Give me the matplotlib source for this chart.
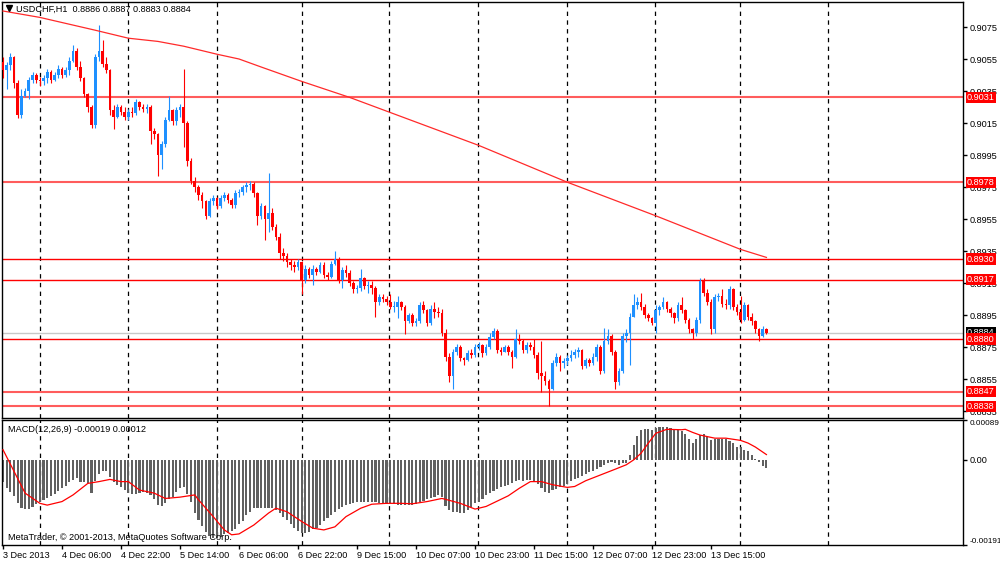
import numpy as np
import matplotlib
matplotlib.use("Agg")
import matplotlib.pyplot as plt
import matplotlib.transforms as mtransforms

# USDCHF H1, 3 Dec 2013 14:00 .. 13 Dec 2013
first_open = 0.9053
closes = [
    .9048, .9051, .9056, .9040, .9020, .9032, .9035, .9042, .9045, .9042,
    .9041, .9043, .9047, .9042, .9045, .9049, .9045, .9048, .9054, .9060,
    .9050, .9043, .9033, .9025, .9014, .9056, .9060, .9052, .9048, .9023,
    .9019, .9025, .9022, .9019, .9022, .9021, .9028, .9025, .9024, .9025,
    .9010, .9008, .8995, .9002, .9017, .9023, .9016, .9023, .9025, .9015,
    .8991, .8979, .8975, .8970, .8966, .8957, .8966, .8968, .8963, .8968,
    .8970, .8967, .8964, .8971, .8972, .8975, .8976, .8977, .8971, .8957,
    .8963, .8955, .8959, .8950, .8944, .8934, .8932, .8928, .8926, .8925,
    .8928, .8917, .8924, .8920, .8924, .8922, .8926, .8920, .8919, .8927,
    .8930, .8917, .8923, .8921, .8915, .8911, .8912, .8918, .8913, .8914,
    .8912, .8903, .8906, .8905, .8903, .8900, .8900, .8903, .8900, .8891,
    .8895, .8890, .8891, .8901, .8898, .8890, .8899, .8897, .8896, .8884,
    .8869, .8857, .8872, .8875, .8868, .8867, .8871, .8870, .8875, .8876,
    .8871, .8875, .8881, .8885, .8873, .8872, .8875, .8872, .8869, .8880,
    .8879, .8873, .8876, .8875, .8870, .8859, .8857, .8854, .8849, .8865,
    .8869, .8865, .8866, .8868, .8870, .8872, .8873, .8863, .8867, .8865,
    .8869, .8875, .8860, .8879, .8882, .8872, .8853, .8860, .8882, .8884,
    .8894, .8901, .8903, .8900, .8895, .8893, .8890, .8898, .8900, .8903,
    .8899, .8896, .8893, .8901, .8898, .8892, .8886, .8884, .8892, .8916,
    .8909, .8903, .8886, .8906, .8907, .8902, .8901, .8911, .8900, .8897,
    .8892, .8901, .8894, .8891, .8886, .8882, .8886, .8884,
]
highs = [
    .9056, .9053, .9059, .9057, .9042, .9036, .9037, .9044, .9047, .9046,
    .9044, .9045, .9049, .9048, .9047, .9051, .9050, .9050, .9056, .9064,
    .9062, .9054, .9044, .9034, .9026, .9058, .9076, .9067, .9056, .9049,
    .9026, .9027, .9026, .9025, .9024, .9025, .9030, .9029, .9027, .9027,
    .9026, .9012, .9009, .9004, .9019, .9032, .9024, .9025, .9027, .9049,
    .9016, .8993, .8981, .8976, .8972, .8967, .8968, .8970, .8969, .8970,
    .8972, .8971, .8968, .8973, .8974, .8976, .8978, .8979, .8978, .8972,
    .8965, .8964, .8984, .8962, .8952, .8946, .8937, .8934, .8930, .8929,
    .8930, .8929, .8926, .8925, .8926, .8925, .8928, .8928, .8922, .8929,
    .8935, .8931, .8925, .8926, .8923, .8916, .8914, .8924, .8919, .8916,
    .8916, .8913, .8908, .8908, .8907, .8908, .8904, .8907, .8904, .8901,
    .8896, .8896, .8893, .8903, .8904, .8899, .8901, .8903, .8900, .8899,
    .8886, .8871, .8874, .8877, .8876, .8869, .8873, .8874, .8877, .8878,
    .8877, .8877, .8884, .8887, .8886, .8875, .8876, .8876, .8873, .8886,
    .8883, .8880, .8878, .8878, .8880, .8872, .8879, .8860, .8855, .8867,
    .8871, .8870, .8868, .8870, .8873, .8874, .8875, .8874, .8868, .8868,
    .8871, .8877, .8876, .8887, .8886, .8883, .8873, .8862, .8884, .8886,
    .8896, .8908, .8906, .8909, .8902, .8896, .8894, .8901, .8901, .8906,
    .8904, .8900, .8897, .8903, .8906, .8899, .8893, .8887, .8894, .8918,
    .8918, .8911, .8905, .8908, .8909, .8911, .8905, .8913, .8912, .8902,
    .8907, .8903, .8902, .8896, .8892, .8887, .8888, .8887,
]
lows = [
    .9043, .9036, .9048, .9037, .9018, .9018, .9031, .9030, .9040, .9040,
    .9038, .9039, .9040, .9040, .9041, .9043, .9043, .9044, .9045, .9053,
    .9048, .9041, .9031, .9022, .9012, .9012, .9054, .9050, .9046, .9020,
    .9011, .9018, .9020, .9017, .9017, .9019, .9020, .9023, .9022, .9021,
    .9002, .9005, .8982, .8986, .9000, .9016, .9014, .9014, .9019, .9000,
    .8988, .8977, .8972, .8967, .8962, .8955, .8956, .8964, .8961, .8962,
    .8966, .8965, .8962, .8962, .8969, .8970, .8972, .8973, .8969, .8951,
    .8955, .8942, .8947, .8948, .8942, .8930, .8929, .8925, .8923, .8922,
    .8923, .8908, .8915, .8918, .8914, .8920, .8921, .8918, .8917, .8918,
    .8926, .8915, .8912, .8919, .8913, .8909, .8909, .8910, .8911, .8909,
    .8908, .8894, .8901, .8903, .8901, .8899, .8897, .8893, .8898, .8883,
    .8890, .8888, .8888, .8890, .8896, .8888, .8889, .8893, .8894, .8882,
    .8866, .8853, .8849, .8870, .8866, .8864, .8866, .8868, .8869, .8873,
    .8869, .8870, .8874, .8880, .8871, .8870, .8872, .8870, .8862, .8868,
    .8877, .8871, .8871, .8873, .8868, .8855, .8847, .8851, .8838, .8848,
    .8863, .8860, .8862, .8864, .8866, .8868, .8869, .8861, .8862, .8863,
    .8864, .8866, .8858, .8859, .8877, .8870, .8849, .8851, .8859, .8878,
    .8864, .8894, .8899, .8898, .8893, .8891, .8889, .8884, .8895, .8899,
    .8897, .8894, .8890, .8891, .8896, .8890, .8884, .8880, .8882, .8890,
    .8907, .8901, .8883, .8884, .8904, .8900, .8899, .8899, .8898, .8895,
    .8890, .8891, .8892, .8889, .8884, .8879, .8881, .8883,
]

# moving average (vertices)
ma_bars = [0, 10, 25, 34, 42, 49, 58, 64, 70, 81, 94, 129, 153, 177, 200, 207]
ma_vals = [.9085, .9081, .9073, .9068, .9066, .9063, .9058, .9055, .9050,
           .9041, .9031, .9001, .8978, .8957, .8936, .8931]

# MACD(12,26,9) main histogram, in 1e-5
macd_hist = [
    -49, -64, -72, -81, -98, -108, -111, -110, -107, -99,
    -94, -90, -86, -82, -77, -70, -64, -58, -50, -45,
    -41, -49, -49, -53, -75, -47, -32, -24, -26, -38,
    -50, -57, -62, -69, -74, -76, -76, -75, -72, -74,
    -80, -88, -101, -104, -97, -88, -84, -72, -64, -62,
    -78, -95, -119, -135, -150, -163, -172, -177, -177, -173,
    -168, -164, -160, -155, -145, -137, -125, -117, -109, -109,
    -109, -109, -108, -108, -112, -120, -128, -136, -145, -153,
    -161, -166, -166, -163, -157, -153, -147, -138, -130, -125,
    -117, -111, -107, -102, -100, -98, -96, -96, -94, -94,
    -94, -96, -97, -98, -99, -98, -99, -102, -102, -102,
    -101, -101, -99, -95, -92, -89, -86, -83, -79, -84,
    -105, -114, -117, -118, -120, -119, -114, -107, -98, -95,
    -88, -80, -74, -70, -65, -62, -59, -56, -52, -47,
    -45, -47, -45, -45, -50, -54, -63, -72, -74, -69,
    -65, -62, -59, -54, -48, -44, -40, -36, -32, -27,
    -24, -21, -15, -11, -7, -4, -6, -11, -8, -6,
    11, 34, 53, 68, 70, 70, 68, 71, 74, 74,
    74, 72, 69, 68, 65, 59, 47, 39, 47, 56,
    59, 53, 45, 47, 48, 48, 47, 42, 38, 30,
    28, 23, 19, 11, 2, -5, -13, -19,
]
# signal line vertices, in 1e-5
sig_bars = [0, 6, 10, 12, 16, 19, 23, 26, 29, 32, 34, 37, 41, 44, 48, 52, 53,
            57, 60, 62, 64, 68, 72, 74, 77, 81, 84, 87, 90, 93, 97, 100, 104,
            108, 111, 115, 119, 120, 124, 128, 131, 137, 140, 143, 146, 149,
            153, 155, 158, 162, 166, 169, 171, 173, 175, 177, 180, 184, 185,
            187, 189, 193, 196, 200, 202, 204, 207]
sig_vals = [23, -75, -98, -102, -94, -79, -53, -49, -44, -49, -49, -68, -75,
            -87, -84, -79, -90, -128, -158, -169, -167, -147, -120, -109, -117,
            -139, -154, -158, -151, -128, -109, -100, -98, -98, -99, -94, -87,
            -89, -98, -111, -105, -81, -64, -49, -49, -56, -62, -60, -47, -34,
            -21, -11, 0, 15, 38, 60, 69, 68, 69, 62, 56, 49, 49, 44, 38, 29, 12]

levels = [0.9031, 0.8978, 0.8930, 0.8917, 0.8880, 0.8847, 0.8838]
bid = 0.8884
time_labels = ['3 Dec 2013', '4 Dec 06:00', '4 Dec 22:00', '5 Dec 14:00',
               '6 Dec 06:00', '6 Dec 22:00', '9 Dec 15:00', '10 Dec 07:00',
               '10 Dec 23:00', '11 Dec 15:00', '12 Dec 07:00', '12 Dec 23:00',
               '13 Dec 15:00']
price_ticks = [0.9075, 0.9055, 0.9035, 0.9015, 0.8995, 0.8975, 0.8955,
               0.8935, 0.8915, 0.8895, 0.8875, 0.8855, 0.8835]

plt.rcParams['font.family'] = ['Liberation Sans', 'DejaVu Sans']
FS = 6.6

fig = plt.figure(figsize=(10, 5.62), dpi=100)
W, H = 1000.0, 562.0
ax = fig.add_axes([2 / W, 1 - 418 / H, 961 / W, 416 / H])
ax2 = fig.add_axes([2 / W, 1 - 545 / H, 961 / W, 125 / H])

c = np.array(closes)
o = np.array([first_open] + closes[:-1])
hi = np.array(highs)
lo = np.array(lows)
x = np.arange(len(c))
cols = np.where(c >= o, '#1e90ff', '#ff0000')

# candles
ax.vlines(x, lo, hi, colors=cols, lw=0.8, zorder=3)
ax.bar(x, np.maximum(np.abs(c - o), 0.00004), bottom=np.minimum(o, c),
       width=0.72, color=cols, lw=0, zorder=3)

# moving average
ax.plot(ma_bars, ma_vals, color='#ff2a2a', lw=0.9, zorder=4)

# horizontal levels
light = [0.9031, 0.8978, 0.8847, 0.8838]
for lv in levels:
    if lv in light:
        ax.axhline(lv, color='#ff5c5c', lw=1.5, zorder=2)
    else:
        ax.axhline(lv, color='#ff0000', lw=1, zorder=2)
ax.axhline(bid, color='#c8c8c8', lw=1, zorder=1)

# vertical grid
grid_pos = [10.0, 33.9, 58.0, 81.1, 104.7, 128.8, 152.9, 176.8, 199.9, 223.7]
for a in (ax, ax2):
    for g in grid_pos:
        a.axvline(g, color='black', lw=0.9, ls=(0, (3.5, 3.5)), zorder=1)
    a.set_xlim(-0.27, 260.3)
    for s in a.spines.values():
        s.set_color('black')
        s.set_linewidth(1)

ax.set_ylim(0.883063, 0.909063)
ax.yaxis.tick_right()
ax.set_yticks(price_ticks)
ax.set_yticklabels(['%.4f' % p for p in price_ticks])
ax.tick_params(axis='y', length=3, pad=1.5, labelsize=FS, width=1)
ax.set_xticks([])

# price label boxes on the right
tr = mtransforms.blended_transform_factory(ax.transAxes, ax.transData)
for lv in levels:
    ax.text(1.0042, lv, '%.4f' % lv, transform=tr, fontsize=FS, color='white',
            va='center', ha='left', clip_on=False, zorder=10,
            bbox=dict(boxstyle='square,pad=0.12', fc='#ff0000', ec='none'))
ax.text(1.0042, bid + 0.00003, '%.4f' % bid, transform=tr, fontsize=FS,
        color='white', va='center', ha='left', clip_on=False, zorder=9,
        bbox=dict(boxstyle='square,pad=0.12', fc='black', ec='none'))

# MACD panel
ax2.bar(x, np.array(macd_hist) * 1e-5, width=0.58, color='#606060', lw=0,
        antialiased=False, zorder=2)
ax2.plot(sig_bars, np.array(sig_vals) * 1e-5, color='#ff0000', lw=0.9, zorder=3)
ax2.set_ylim(-0.00192, 0.00090)
ax2.yaxis.tick_right()
ax2.set_yticks([0.00089, 0.0, -0.00191])
ax2.set_yticklabels(['0.00089', '0.00', '-0.00191'])
ax2.tick_params(axis='y', length=3, pad=1.5, labelsize=FS, width=1)
yl = ax2.get_yticklabels()
yl[0].set_va('top')
yl[0].set_fontsize(5.9)
yl[2].set_va('bottom')
yl[2].set_fontsize(5.9)
ax2.set_xticks(np.arange(0, 193, 16))
ax2.set_xticklabels(time_labels, ha='left')
ax2.tick_params(axis='x', length=3, pad=1, labelsize=FS, width=1)

# texts
fig.text(16 / W, 1 - 9 / H, 'USDCHF,H1  0.8886 0.8887 0.8883 0.8884',
         fontsize=FS, va='center', ha='left')
fig.lines.append(plt.Line2D([9 / W], [1 - 8 / H], marker='v', markersize=4,
                            color='black', transform=fig.transFigure))
ax2.text(6 / 961, 1 - 9 / 125, 'MACD(12,26,9) -0.00019 0.00012',
         transform=ax2.transAxes, fontsize=FS, va='center', ha='left')
ax2.text(6 / 961, 7 / 125, 'MetaTrader, \u00a9 2001-2013, MetaQuotes Software Corp.',
         transform=ax2.transAxes, fontsize=FS, va='center', ha='left')

fig.savefig('out.png', dpi=100, facecolor='white')
